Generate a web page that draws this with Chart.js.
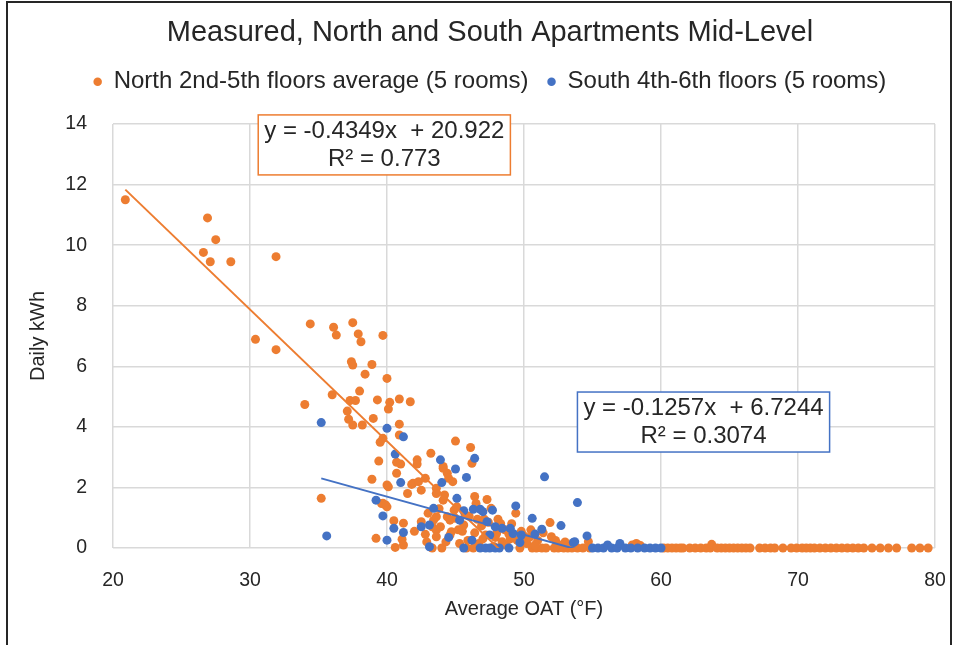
<!DOCTYPE html>
<html lang="en">
<head>
<meta charset="UTF-8">
<title>Measured, North and South Apartments Mid-Level</title>
<style>
    body { margin: 0; background: #fff; }
    .wrap { position: relative; width: 956px; height: 645px; overflow: hidden; }
    /* outer chart frame, open at the bottom */
    .frame {
        position: absolute; left: 6px; top: 1px; width: 942px; height: 700px;
        border: 2px solid #262626; border-bottom: none; pointer-events: none;
    }
</style>
</head>
<body>
<div class="wrap">
    <canvas id="chart" width="956" height="645"></canvas>
    <div class="frame"></div>
</div>

<script src="https://cdn.jsdelivr.net/npm/chart.js@4.4.1/dist/chart.umd.min.js"></script>
<script>
// Daily kWh against average outdoor air temperature (°F)
const northOat = [
    20.9, 26.6, 26.9, 27.1, 27.5, 28.6, 30.4, 31.9, 31.9, 34.0,
    34.4, 35.2, 36.0, 36.1, 36.3, 37.1, 37.2, 37.3, 37.4, 37.5,
    37.5, 37.5, 37.7, 37.9, 38.0, 38.1, 38.2, 38.4, 38.9, 38.9,
    39.0, 39.2, 39.3, 39.4, 39.5, 39.6, 39.7, 39.7, 39.7, 39.9,
    40.0, 40.0, 40.0, 40.1, 40.1, 40.2, 40.5, 40.6, 40.7, 40.7,
    40.9, 40.9, 40.9, 41.0, 41.1, 41.2, 41.2, 41.5, 41.7, 41.8,
    41.9, 42.0, 42.2, 42.2, 42.3, 42.5, 42.5, 42.8, 42.8, 43.0,
    43.2, 43.3, 43.3, 43.4, 43.6, 43.6, 43.6, 43.6, 43.6, 43.9,
    44.0, 44.1, 44.1, 44.1, 44.2, 44.4, 44.4, 44.5, 44.6, 44.6,
    44.7, 44.8, 44.9, 45.0, 45.0, 45.1, 45.3, 45.5, 45.6, 45.8,
    45.9, 46.0, 46.1, 46.2, 46.3, 46.5, 46.6, 46.7, 46.9, 47.0,
    47.2, 47.4, 47.6, 47.8, 48.0, 48.1, 48.4, 48.6, 48.7, 49.0,
    49.1, 49.4, 49.7, 49.8, 50.2, 50.4, 50.5, 50.6, 50.9, 51.0,
    51.3, 51.6, 51.9, 52.0, 52.2, 52.5, 52.6, 52.9, 53.0, 53.2,
    53.5, 53.9, 54.3, 54.7, 54.8, 57.9, 58.2, 58.5, 60.2, 60.5,
    60.8, 61.1, 61.4, 61.6, 62.1, 62.5, 62.9, 63.3, 63.6, 63.7,
    64.1, 64.4, 64.7, 65.0, 65.3, 65.6, 65.9, 66.2, 66.5, 67.2,
    67.6, 68.0, 68.3, 68.9, 69.5, 69.9, 70.3, 70.6, 70.9, 71.2,
    71.6, 72.0, 72.4, 72.8, 73.2, 73.6, 74.0, 74.4, 74.8, 75.4,
    76.0, 76.6, 77.2, 78.3, 78.9, 79.5,
    42.9, 43.8, 44.3, 45.2, 45.7, 46.4, 46.4, 47.1, 47.3, 47.9,
    48.3, 48.9, 49.5, 50.0, 50.8, 51.4, 52.3, 53.3
];
const northKwh = [
    11.5, 9.76, 10.9, 9.45, 10.18, 9.45, 6.89, 9.62, 6.55, 4.74,
    7.40, 1.64, 5.06, 7.29, 7.03, 4.52, 4.25, 4.87, 6.15, 7.44,
    6.04, 4.06, 4.87, 7.07, 5.18, 6.81, 4.06, 5.74, 6.06, 2.27,
    4.28, 0.32, 4.89, 2.87, 3.49, 1.47, 7.02, 3.62, 1.48, 1.42,
    5.60, 2.08, 1.36, 4.59, 2.02, 4.81, 0.90, 0.02, 2.83, 2.47,
    4.92, 4.09, 3.73, 2.77, 0.29, 0.82, 0.10, 1.80, 4.83, 2.10,
    2.14, 0.55, 2.91, 2.77, 2.19, 1.91, 0.87, 2.30, 0.45, 1.15,
    3.13, 0.70, 0.00, 0.92, 1.97, 1.80, 1.03, 0.59, 0.37, 0.70,
    0.00, 2.69, 2.63, 1.58, 1.75, 2.47, 1.03, 2.30, 0.92, 0.43,
    0.54, 2.19, 1.25, 3.53, 0.98, 1.36, 0.15, 0.55, 0.76, 0.00,
    0.25, 1.05, 3.32, 2.80, 0.00, 1.47, 0.95, 0.15, 0.73, 0.30,
    0.43, 0.85, 1.31, 0.05, 0.48, 0.95, 0.21, 0.60, 0.10, 0.30,
    0.80, 1.15, 0.00, 0.55, 0.15, 0.35, 0.60, 0.00, 0.00, 0.25,
    0.00, 0.00, 0.84, 0.37, 0.00, 0.00, 0.10, 0.00, 0.20, 0.00,
    0.00, 0.00, 0.00, 0.21, 0.00, 0.10, 0.15, 0.08, 0.00, 0.00,
    0.00, 0.00, 0.00, 0.00, 0.00, 0.00, 0.00, 0.00, 0.00, 0.12,
    0.00, 0.00, 0.00, 0.00, 0.00, 0.00, 0.00, 0.00, 0.00, 0.00,
    0.00, 0.00, 0.00, 0.00, 0.00, 0.00, 0.00, 0.00, 0.00, 0.00,
    0.00, 0.00, 0.00, 0.00, 0.00, 0.00, 0.00, 0.00, 0.00, 0.00,
    0.00, 0.00, 0.00, 0.00, 0.00, 0.00,
    0.20, 1.30, 0.20, 0.60, 1.10, 0.50, 1.70, 0.95, 1.60, 0.35,
    0.80, 0.45, 0.25, 0.40, 0.10, 0.50, 0.25, 0.10
];
const southOat = [
    35.2, 35.6, 39.2, 39.7, 40.0, 40.0, 40.5, 40.6, 41.0, 41.2,
    41.2, 42.5, 43.1, 43.1, 43.4, 43.9, 44.0, 44.5, 45.0, 45.1,
    45.3, 45.6, 45.6, 45.8, 46.2, 46.3, 46.4, 46.8, 46.8, 47.0,
    47.2, 47.3, 47.5, 47.5, 47.7, 47.9, 47.9, 48.2, 48.4, 48.9,
    49.0, 49.2, 49.4, 49.7, 49.8, 50.6, 50.8, 51.3, 51.5, 52.7,
    53.6, 53.7, 53.9, 54.6, 55.0, 55.4, 55.8, 56.1, 56.4, 56.8,
    57.0, 57.4, 57.8, 58.3, 58.8, 59.2, 59.6, 60.0
];
const southKwh = [
    4.14, 0.40, 1.58, 1.06, 3.95, 0.26, 0.65, 3.10, 2.16, 3.67,
    0.51, 0.70, 0.76, 0.04, 1.31, 2.91, 2.16, 0.35, 2.61, 1.64,
    0.92, 1.23, 0.00, 2.33, 0.26, 1.28, 2.96, 1.28, 0.00, 1.20,
    0.00, 0.87, 0.43, 0.00, 1.25, 0.70, 0.00, 0.00, 0.65, 0.00,
    0.65, 0.48, 1.39, 0.18, 0.43, 0.98, 0.46, 0.62, 2.35, 0.74,
    0.18, 0.21, 1.50, 0.40, 0.00, 0.00, 0.00, 0.10, 0.00, 0.00,
    0.15, 0.00, 0.00, 0.00, 0.00, 0.00, 0.00, 0.00
];
const xTicks = [20, 30, 40, 50, 60, 70, 80];
const yTicks = [0, 2, 4, 6, 8, 10, 12, 14];

// linear trendlines (least squares, as reported)
const northFit = { slope: -0.4349, intercept: 20.922, r2: 0.773 };
const southFit = { slope: -0.1257, intercept: 6.7244, r2: 0.3074 };

const ORANGE = '#ED7D31';
const BLUE = '#4472C4';
const TEXT = '#262626';
const FONT = '"Liberation Sans", Arial, sans-serif';

Chart.defaults.font.family = FONT;
Chart.defaults.color = TEXT;

function toPoints(xs, ys) {
    return xs.map((x, i) => ({ x: x, y: ys[i] }));
}

// trendline spans the series' own x range
function trendPoints(xs, fit) {
    const lo = Math.min(...xs);
    const hi = Math.max(...xs);
    return [lo, hi].map(x => ({ x: x, y: fit.slope * x + fit.intercept }));
}

function fitText(fit) {
    return ['y = ' + fit.slope + 'x  + ' + fit.intercept, 'R\u00B2 = ' + fit.r2];
}

// equation boxes, top-left corner given in axis units
const fitBoxes = [
    { fit: northFit, color: ORANGE, left: 30.6, top: 14.3 },
    { fit: southFit, color: BLUE, left: 53.9, top: 5.15 }
];

const fitLabels = {
    id: 'fitLabels',
    afterDatasetsDraw(chart) {
        const { ctx, scales: { x, y } } = chart;
        ctx.save();
        ctx.font = '24px ' + FONT;
        ctx.textAlign = 'center';
        ctx.textBaseline = 'middle';
        fitBoxes.forEach(b => {
            const lines = fitText(b.fit);
            const w = Math.max(...lines.map(t => ctx.measureText(t).width)) + 12;
            const h = 60;
            const left = x.getPixelForValue(b.left);
            const top = y.getPixelForValue(b.top);
            ctx.fillStyle = '#fff';
            ctx.fillRect(left, top, w, h);
            ctx.strokeStyle = b.color;
            ctx.lineWidth = 1.5;
            ctx.strokeRect(left, top, w, h);
            ctx.fillStyle = TEXT;
            lines.forEach((t, i) => ctx.fillText(t, left + w / 2, top + 16 + i * 28));
        });
        ctx.restore();
    }
};

new Chart(document.getElementById('chart'), {
    type: 'scatter',
    data: {
        datasets: [
            {
                label: 'North 2nd-5th floors average (5 rooms)',
                data: toPoints(northOat, northKwh),
                backgroundColor: ORANGE,
                borderWidth: 0,
                pointRadius: 4.5,
                clip: false,
                order: 3
            },
            {
                label: 'South 4th-6th floors (5 rooms)',
                data: toPoints(southOat, southKwh),
                backgroundColor: BLUE,
                borderWidth: 0,
                pointRadius: 4.5,
                clip: false,
                order: 2
            },
            {
                type: 'line',
                label: 'North trend',
                data: trendPoints(northOat, northFit),
                borderColor: ORANGE,
                borderWidth: 2,
                pointRadius: 0,
                order: 1
            },
            {
                type: 'line',
                label: 'South trend',
                data: trendPoints(southOat, southFit),
                borderColor: BLUE,
                borderWidth: 2,
                pointRadius: 0,
                order: 0
            }
        ]
    },
    options: {
        responsive: false,
        animation: false,
        layout: { padding: { left: 45, right: 21, top: 0, bottom: 0 } },
        plugins: {
            title: {
                display: true,
                text: 'Measured, North and South Apartments Mid-Level',
                color: TEXT,
                font: { size: 29, weight: 'normal' },
                padding: { top: 16, bottom: 0 }
            },
            // spacer between legend and plot
            subtitle: {
                display: true,
                text: '',
                weight: 500,
                font: { size: 1 },
                padding: { top: 19, bottom: 0 }
            },
            legend: {
                labels: {
                    filter: item => item.datasetIndex < 2,
                    sort: (a, b) => a.datasetIndex - b.datasetIndex,
                    usePointStyle: true,
                    pointStyle: 'circle',
                    boxWidth: 8,
                    boxHeight: 6,
                    padding: 19,
                    color: TEXT,
                    font: { size: 24 }
                }
            },
            tooltip: { enabled: false }
        },
        scales: {
            x: {
                type: 'linear',
                min: xTicks[0],
                max: xTicks[xTicks.length - 1],
                ticks: { stepSize: xTicks[1] - xTicks[0], padding: 21, color: TEXT, font: { size: 19.5 } },
                grid: { color: '#d9d9d9', lineWidth: 1.5, drawTicks: false },
                border: { display: false },
                title: {
                    display: true,
                    text: 'Average OAT (\u00B0F)',
                    color: TEXT,
                    font: { size: 20 },
                    padding: { top: 0, bottom: 24 }
                },
                // fixed height; the last tick label only needs the layout padding on the right
                afterFit: s => { s.height = 97; s.paddingRight = 0; }
            },
            y: {
                min: yTicks[0],
                max: yTicks[yTicks.length - 1],
                ticks: { stepSize: yTicks[1] - yTicks[0], padding: 26, color: TEXT, font: { size: 19.5 } },
                grid: { color: '#d9d9d9', lineWidth: 1.5, drawTicks: false },
                border: { display: false },
                title: {
                    display: true,
                    text: 'Daily kWh',
                    color: TEXT,
                    font: { size: 20 },
                    padding: { top: -19, bottom: 0 }
                },
                afterFit: s => { s.width = 68; }
            }
        }
    },
    plugins: [fitLabels]
});
</script>
</body>
</html>
